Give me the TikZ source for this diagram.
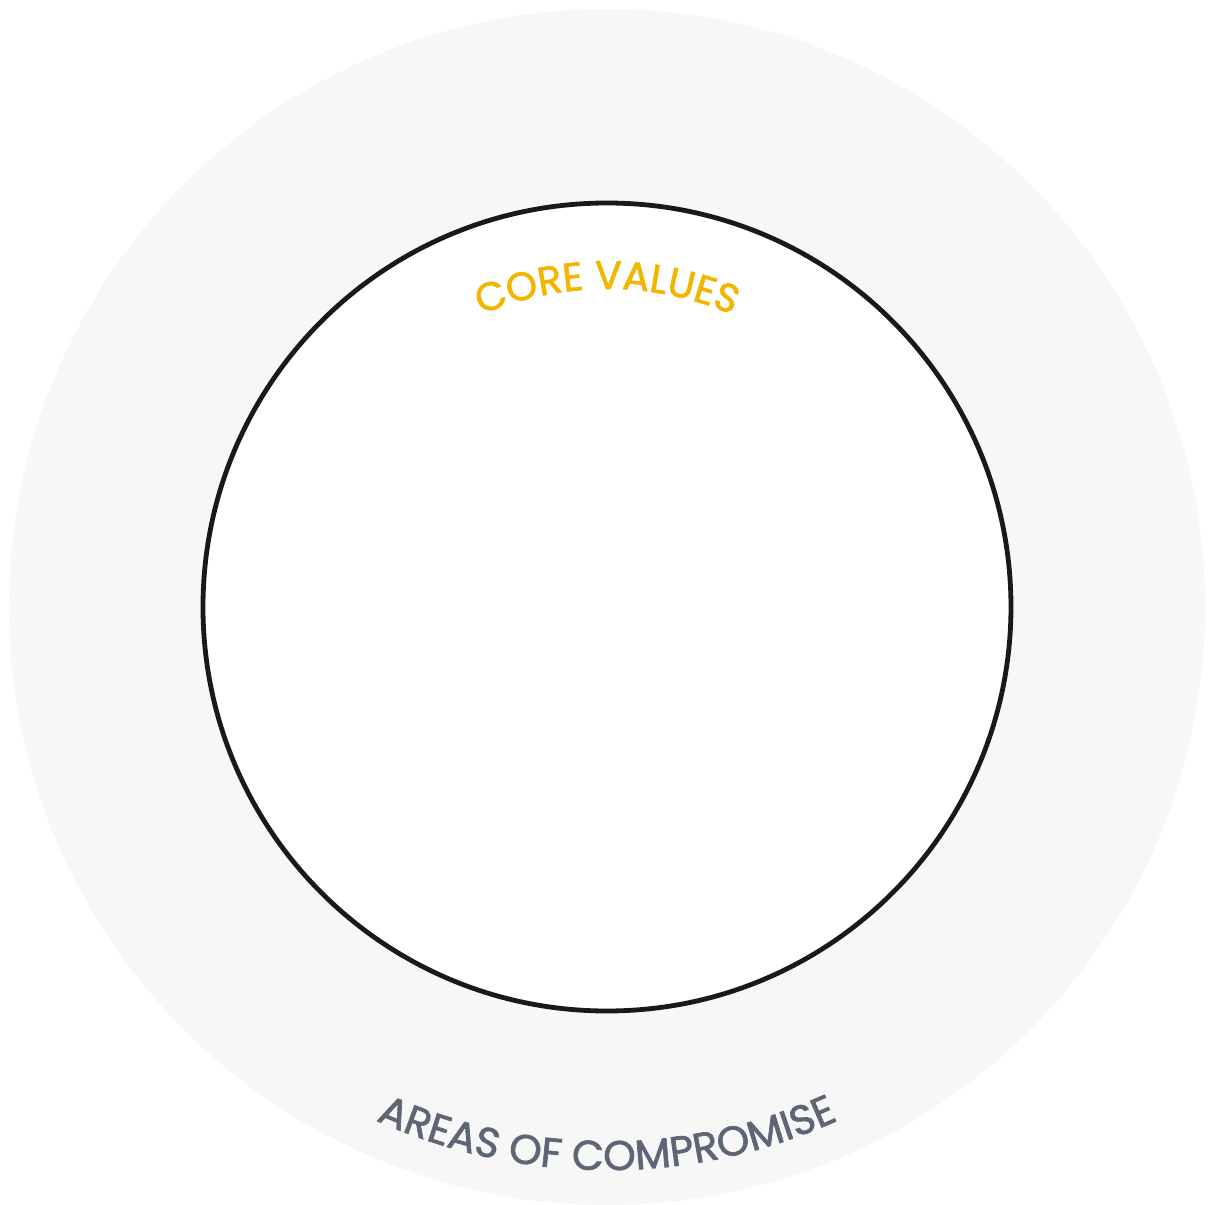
\documentclass[tikz,border=0pt]{standalone}
\usepackage{fontspec}
\setmainfont{Poppins}
\newfontfamily\labelfont{Poppins}[FakeBold=1.6]
\usetikzlibrary{decorations.text}

\definecolor{ringgray}{HTML}{F7F7F7}
\definecolor{coreyellow}{HTML}{F2B600}
\definecolor{slategray}{HTML}{5E6577}
\definecolor{linedark}{HTML}{191919}

\begin{document}
\begin{tikzpicture} [
                x=0.01cm, y=0.01cm,
                ring/.style = {fill=ringgray, draw=none},
                core/.style = {fill=white, draw=linedark, line width=0.48mm},
                arctext/.style = {decorate, decoration={text along path, text align=center, #1}},
            ]
            \useasboundingbox (-607,-598) rectangle (601,607);
            \coordinate (center) at (0,0);
            % outer band and inner circle
            \path[ring] (center) circle [radius=598];
            \path[core] (center) circle [radius=404];
            % curved labels
            \path[arctext={text={|\labelfont\fontsize{11.3}{14}\selectfont\color{coreyellow}|CORE VALUES}}]
                (center) ++(150:318) arc [start angle=150, end angle=30, radius=318];
            \path[arctext={text={|\labelfont\fontsize{11.8}{14}\selectfont\color{slategray}|AREAS OF COMPROMISE}}]
                (center) ++(205:563) arc [start angle=205, end angle=335, radius=563];
        \end{tikzpicture}
\end{document}
